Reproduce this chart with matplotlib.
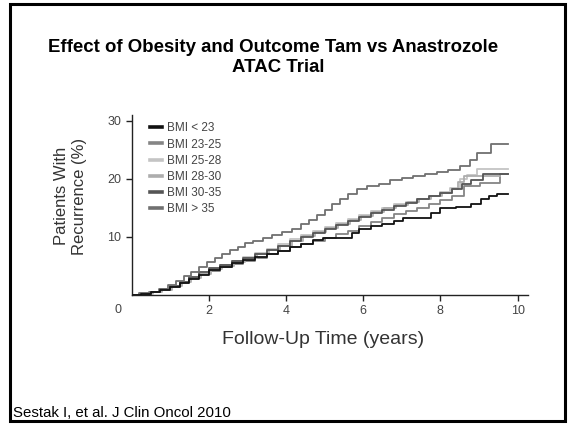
import matplotlib
matplotlib.use("Agg")
import matplotlib.pyplot as plt
from matplotlib.patches import Rectangle

plt.rcParams['font.family'] = ['Liberation Sans', 'DejaVu Sans']

labels = ["BMI < 23", "BMI 23-25", "BMI 25-28", "BMI 28-30", "BMI 30-35", "BMI > 35"]
colors = ["#111111", "#858585", "#c4c4c4", "#adadad", "#555555", "#707070"]

t_lt23 = [0, 0.25, 0.5, 0.75, 1.0, 1.25, 1.5, 1.75, 2.0, 2.3, 2.6, 2.9, 3.2, 3.5, 3.8, 4.1, 4.4, 4.7, 4.95,
          5.7, 5.9, 6.2, 6.5, 6.8, 7.03, 7.75, 8.0, 8.4, 8.8, 9.05, 9.25, 9.47, 9.75]
v_lt23 = [0, 0.2, 0.5, 0.9, 1.4, 2.1, 2.8, 3.5, 4.3, 4.9, 5.5, 6.0, 6.5, 7.0, 7.6, 8.2, 8.8, 9.4, 9.9,
          10.6, 11.4, 11.8, 12.3, 12.8, 13.3, 14.2, 14.9, 15.2, 15.6, 16.6, 17.0, 17.4, 17.4]

t_23_25 = [0, 0.25, 0.5, 0.75, 1.0, 1.25, 1.5, 1.75, 2.0, 2.3, 2.6, 2.9, 3.2, 3.5, 3.8, 4.1, 4.4, 4.7, 5.0,
           5.3, 5.6, 5.9, 6.2, 6.5, 6.8, 7.1, 7.4, 7.7, 8.0, 8.3, 8.6, 9.03, 9.55, 9.75]
v_23_25 = [0, 0.3, 0.6, 1.0, 1.5, 2.2, 2.9, 3.6, 4.2, 4.8, 5.3, 5.9, 6.4, 7.0, 7.6, 8.2, 8.7, 9.3, 9.9,
           10.5, 11.1, 11.8, 12.5, 13.2, 13.9, 14.5, 15.0, 15.6, 16.3, 17.1, 18.8, 19.3, 20.9, 20.9]

t_25_28 = [0, 0.25, 0.5, 0.75, 1.0, 1.25, 1.5, 1.75, 2.0, 2.3, 2.6, 2.9, 3.2, 3.5, 3.8, 4.1, 4.4, 4.7, 5.0,
           5.3, 5.6, 5.9, 6.2, 6.5, 6.8, 7.1, 7.4, 7.7, 8.0, 8.25, 8.5, 8.7, 8.95, 9.75]
v_25_28 = [0, 0.2, 0.5, 0.9, 1.4, 2.1, 2.9, 3.6, 4.4, 5.1, 5.8, 6.5, 7.3, 8.0, 8.8, 9.6, 10.4, 11.0, 11.7,
           12.4, 13.1, 13.8, 14.5, 15.0, 15.6, 16.1, 16.6, 17.1, 17.7, 18.5, 20.0, 20.6, 21.7, 21.7]

t_28_30 = [0, 0.3, 0.55, 0.8, 1.05, 1.3, 1.55, 1.8, 2.05, 2.35, 2.65, 2.95, 3.25, 3.55, 3.85, 4.15, 4.45,
           4.75, 5.05, 5.35, 5.65, 5.95, 6.25, 6.55, 6.85, 7.15, 7.45, 7.75, 8.05, 8.3, 8.45, 8.6, 9.55]
v_28_30 = [0, 0.2, 0.5, 0.9, 1.5, 2.2, 3.0, 3.7, 4.4, 5.0, 5.6, 6.3, 7.0, 7.7, 8.5, 9.3, 10.1,
           10.8, 11.5, 12.2, 12.9, 13.6, 14.3, 14.9, 15.5, 16.0, 16.5, 17.0, 17.6, 18.2, 19.4, 20.5, 20.5]

t_30_35 = [0, 0.25, 0.5, 0.75, 1.0, 1.25, 1.5, 1.75, 2.0, 2.3, 2.6, 2.9, 3.2, 3.5, 3.8, 4.1, 4.4, 4.7, 5.0,
           5.3, 5.6, 5.9, 6.2, 6.5, 6.8, 7.1, 7.4, 7.7, 8.0, 8.3, 8.55, 8.8, 9.1, 9.75]
v_30_35 = [0, 0.2, 0.5, 1.0, 1.5, 2.3, 3.1, 3.9, 4.6, 5.2, 5.8, 6.4, 7.1, 7.8, 8.5, 9.3, 10.0, 10.7, 11.4,
           12.1, 12.8, 13.5, 14.1, 14.7, 15.3, 15.9, 16.5, 17.0, 17.6, 18.3, 19.2, 19.8, 20.9, 20.9]

t_gt35 = [0, 0.2, 0.45, 0.7, 0.95, 1.15, 1.35, 1.55, 1.75, 1.95, 2.15, 2.35, 2.55, 2.75, 2.95, 3.15, 3.4,
          3.65, 3.9, 4.15, 4.4, 4.6, 4.8, 5.0, 5.2, 5.4, 5.6, 5.85, 6.1, 6.4, 6.7, 7.0, 7.3, 7.6, 7.9,
          8.2, 8.5, 8.77, 8.95, 9.3, 9.75]
v_gt35 = [0, 0.3, 0.6, 1.1, 1.7, 2.4, 3.2, 4.0, 4.8, 5.6, 6.3, 7.1, 7.7, 8.3, 8.9, 9.3, 9.8,
          10.3, 10.9, 11.4, 12.2, 12.9, 13.8, 14.7, 15.6, 16.5, 17.4, 18.2, 18.7, 19.2, 19.8, 20.1, 20.5, 20.9, 21.2,
          21.6, 22.2, 23.2, 24.4, 26.0, 26.0]

series_t = [t_lt23, t_23_25, t_25_28, t_28_30, t_30_35, t_gt35]
series_v = [v_lt23, v_23_25, v_25_28, v_28_30, v_30_35, v_gt35]
zorders = [8, 4, 3, 5, 6, 7]

x_ticks = [2, 4, 6, 8, 10]
y_ticks = [10, 20, 30]

fig = plt.figure(figsize=(5.68, 4.24), dpi=100)
fig.patch.set_facecolor('white')

ax = fig.add_axes([131.5 / 568, 1 - 295 / 424, 396.5 / 568, 180 / 424])
handles = []
for tt, vv, c, lab, z in zip(series_t, series_v, colors, labels, zorders):
    h, = ax.plot(tt, vv, drawstyle='steps-post', color=c, lw=1.3, label=lab, zorder=z)
    handles.append(h)

ax.set_xlim(0, 10.27)
ax.set_ylim(0, 31)
ax.set_xticks(x_ticks)
ax.set_yticks(y_ticks)
ax.tick_params(axis='both', direction='out', length=4.5, width=1.0, color='#222222',
               labelsize=9, labelcolor='#444444', pad=3)
for s in ['top', 'right']:
    ax.spines[s].set_visible(False)
for s in ['left', 'bottom']:
    ax.spines[s].set_linewidth(1.0)
    ax.spines[s].set_color('#222222')
ax.patch.set_alpha(0)

fig.text(118 / 568, 1 - 310 / 424, '0', ha='center', va='center', fontsize=9, color='#444444')

ax.set_xlabel('Follow-Up Time (years)', fontsize=14, color='#333333')
ax.xaxis.set_label_coords((323 - 131.5) / 396.5, -(340 - 295) / 180, transform=ax.transAxes)
ax.xaxis.label.set_va('center')
fig.text(70.5 / 568, 1 - 196 / 424, 'Patients With\nRecurrence (%)', rotation=90, ha='center', va='center',
         fontsize=12, color='#333333', linespacing=1.25, multialignment='center')

leg = ax.legend(handles=handles, loc='upper left', bbox_to_anchor=(0.035, 0.985), frameon=False,
                fontsize=8.5, handlelength=1.0, handletextpad=0.4, labelspacing=0.35, borderaxespad=0)
for lh in leg.legend_handles:
    lh.set_linewidth(2.6)
for txt in leg.get_texts():
    txt.set_color('#444444')

fig.text(273.5 / 568, 1 - 47 / 424, 'Effect of Obesity and Outcome Tam vs Anastrozole', ha='center', va='center',
         fontsize=13.4, fontweight='bold', color='black')
fig.text(278 / 568, 1 - 67 / 424, 'ATAC Trial', ha='center', va='center',
         fontsize=13.4, fontweight='bold', color='black')

fig.text(13 / 568, 1 - 413 / 424, 'Sestak I, et al. J Clin Oncol 2010', ha='left', va='center',
         fontsize=10.8, color='black')

fig.patches.append(Rectangle((10 / 568, 1 - 421 / 424), 555 / 568, 417.5 / 424, transform=fig.transFigure,
                             fill=False, edgecolor='black', linewidth=2.2, zorder=10))

fig.savefig('out.png', dpi=100)
